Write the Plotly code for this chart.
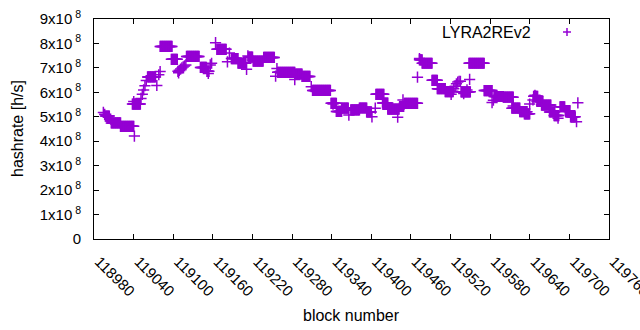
import plotly.graph_objects as go

# ---- data (hashrate in units of 1e8 h/s) ----
# runs of consecutive blocks sharing the same hashrate value
run_start = [118997, 119006, 119020, 119038, 119061, 119080, 119097, 119120, 119141, 119151,
             119166, 119188, 119198, 119214, 119221, 119237, 119258, 119285, 119295, 119311,
             119339, 119347, 119355, 119369, 119382, 119393, 119407, 119417, 119425, 119443,
             119450, 119473, 119477, 119492, 119500, 119512, 119536, 119548, 119571, 119586,
             119600, 119613, 119625, 119632, 119646, 119651, 119658, 119670, 119677, 119686,
             119694, 119702]
run_end = [119003, 119020, 119040, 119050, 119073, 119098, 119106, 119139, 119150, 119154,
           119180, 119198, 119210, 119220, 119236, 119253, 119284, 119295, 119307, 119338,
           119347, 119355, 119365, 119382, 119393, 119400, 119419, 119425, 119442, 119449,
           119470, 119477, 119492, 119500, 119512, 119524, 119550, 119571, 119583, 119600,
           119615, 119625, 119636, 119640, 119652, 119660, 119672, 119678, 119684, 119693,
           119701, 119709]
run_value = [5.03, 4.75, 4.61, 5.52, 6.63, 7.88, 7.35, 7.47, 7.02, 6.86,
             7.76, 7.38, 7.19, 7.44, 7.28, 7.43, 6.82, 6.75, 6.65, 6.08,
             5.55, 5.22, 5.35, 5.28, 5.36, 5.20, 5.92, 5.56, 5.31, 5.42,
             5.55, 7.33, 7.19, 6.49, 6.15, 6.03, 6.02, 7.19, 6.07, 5.83,
             5.80, 5.35, 5.21, 5.12, 5.84, 5.63, 5.48, 5.20, 5.05, 5.41,
             5.25, 5.00]

# individual blocks
single_block = [118994, 118996, 119005, 119007, 119041, 119040, 119051, 119053, 119055, 119057,
                119059, 119075, 119078, 119080, 119108, 119107, 119109, 119111, 119113, 119115,
                119117, 119119, 119153, 119156, 119158, 119164, 119182, 119185, 119211, 119213,
                119255, 119257, 119284, 119309, 119342, 119366, 119401, 119406, 119440, 119448,
                119470, 119473, 119521, 119525, 119527, 119529, 119531, 119533, 119535, 119540,
                119545, 119549, 119583, 119585, 119615, 119640, 119645, 119648, 119683, 119700,
                119711, 119713]
single_value = [5.18, 5.10, 4.90, 4.82, 4.21, 5.62, 5.75, 5.92, 6.10, 6.27,
                6.48, 6.28, 6.72, 6.85, 6.80, 6.86, 6.90, 6.95, 7.00, 7.04,
                7.08, 7.12, 6.77, 7.12, 7.19, 8.03, 7.25, 7.61, 6.94, 7.49,
                6.66, 6.97, 6.52, 6.23, 5.52, 5.07, 5.00, 5.35, 4.98, 5.69,
                6.62, 7.38, 5.92, 6.15, 6.25, 6.35, 6.42, 6.45, 6.45, 5.95,
                6.10, 6.53, 5.58, 5.68, 5.44, 5.52, 5.69, 5.88, 4.94, 5.21,
                4.80, 5.57]

x_ticks = [118980 + 60 * i for i in range(14)]
y_tickvals = [i * 1e8 for i in range(10)]
y_ticktext = ["0"] + [f"{i}x10<sup> 8</sup>" for i in range(1, 10)]

series_name = "LYRA2REv2"
x_title = "block number"
y_title = "hashrate [h/s]"
color = "#9400D3"

# ---- build point list ----
xs, ys = [], []
for s, e, v in zip(run_start, run_end, run_value):
    for b in range(s, e + 1):
        xs.append(b)
        ys.append(v * 1e8)
for b, v in zip(single_block, single_value):
    xs.append(b)
    ys.append(v * 1e8)

FAM = "Liberation Sans, Arial, sans-serif"
tick_font = dict(family=FAM, size=15, color="#000000")
big_font = dict(family=FAM, size=16, color="#000000")

fig = go.Figure()
fig.add_trace(go.Scatter(
    x=xs, y=ys, mode="markers", name=series_name, showlegend=False,
    marker=dict(symbol="cross-thin-open", size=8, color=color,
                line=dict(color=color, width=1.5)),
))

axis_common = dict(
    showline=True, linecolor="#000000", linewidth=1, mirror="ticks",
    ticks="inside", ticklen=5, tickcolor="#000000", tickwidth=1,
    showgrid=False, zeroline=False, tickfont=tick_font, automargin=False,
    ticklabeloverflow="allow",
)

fig.update_xaxes(
    range=[118979.8, 119760.2], tickvals=x_ticks, ticktext=[str(t) for t in x_ticks],
    tickangle=45, ticklabelstandoff=7, ticklabelshift=5, **axis_common,
)
fig.update_yaxes(
    range=[0, 9e8], tickvals=y_tickvals, ticktext=y_ticktext,
    ticklabelstandoff=9, **axis_common,
)

L, R, T, B = 94, 31, 19, 91
PW, PH = 640 - L - R, 330 - T - B

def px(xp):
    return (xp - L) / PW

def py(yp):
    return (330 - B - yp) / PH

# axis titles
fig.add_annotation(x=px(351), y=py(315), xref="paper", yref="paper", text=x_title,
                   showarrow=False, xanchor="center", yanchor="middle", font=big_font)
fig.add_annotation(x=px(17), y=py(129), xref="paper", yref="paper", text=y_title,
                   showarrow=False, xanchor="center", yanchor="middle", textangle=-90,
                   font=big_font)

# gnuplot-style key: text followed by sample marker
fig.add_annotation(x=px(533), y=py(32), xref="paper", yref="paper", text=series_name,
                   showarrow=False, xanchor="right", yanchor="middle", font=big_font)
kx, ky = px(567), py(32)
dx, dy = 4 / PW, 4 / PH
fig.add_shape(type="line", xref="paper", yref="paper", x0=kx - dx, x1=kx + dx, y0=ky, y1=ky,
              line=dict(color=color, width=1.5))
fig.add_shape(type="line", xref="paper", yref="paper", x0=kx, x1=kx, y0=ky - dy, y1=ky + dy,
              line=dict(color=color, width=1.5))

fig.update_layout(
    width=640, height=330,
    margin=dict(l=L, r=R, t=T, b=B),
    paper_bgcolor="white", plot_bgcolor="white",
    font=tick_font,
)

fig.write_html("out.html", config={"displayModeBar": False},
               post_script="document.body.style.margin='0';document.body.style.overflow='hidden';")
